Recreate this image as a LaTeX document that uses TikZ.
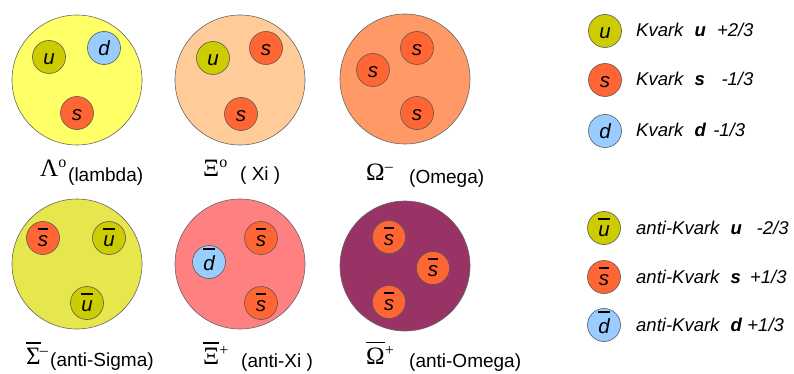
\documentclass[tikz,border=0pt]{standalone}
\usepackage{fontspec}
\setmainfont{Liberation Sans}
\newfontfamily\grk{Liberation Serif}
\usetikzlibrary{calc}
\definecolor{cu}{HTML}{CCCC00}
\definecolor{cs}{HTML}{FF6633}
\definecolor{cd}{HTML}{99CCFF}
\definecolor{hA}{HTML}{FFFF66}
\definecolor{hB}{HTML}{FFCC99}
\definecolor{hC}{HTML}{FF9966}
\definecolor{hD}{HTML}{E6E64D}
\definecolor{hE}{HTML}{FF8080}
\definecolor{hF}{HTML}{993366}
\newcommand\obar[1]{\vbox{\hrule height 1.3pt\kern 5.5pt\hbox{#1}}}
\newcommand\gbar[1]{\vbox{\hrule height 1.5pt\kern 4pt\hbox{#1}}}
\newcommand\supr[1]{\raisebox{8.5pt}{\fontsize{16}{16}\selectfont #1}}
\newcommand\qk[5]{\node[quark,fill=#4] (#1) at (#2,#3) {}; \node[ql] (#1t) at ($(#1)+(0,8)$) {#5};}
\begin{document}
\begin{tikzpicture}[x=1pt,y=-1pt,
 hadron/.style={circle,draw=black!60,line width=0.6pt,minimum size=130pt,inner sep=0pt},
 quark/.style={circle,draw=black!65,line width=0.6pt,minimum size=33pt,inner sep=0pt},
 ql/.style={anchor=base,inner sep=0pt,font=\fontsize{20.5}{20.5}\selectfont\itshape},
 gl/.style={anchor=base west,inner sep=0pt,font=\grk\fontsize{25}{25}\selectfont},
 pl/.style={anchor=base west,inner sep=0pt,font=\fontsize{19}{19}\selectfont},
 lg/.style={anchor=base west,inner sep=0pt,font=\fontsize{18.5}{18.5}\selectfont\itshape}]
\useasboundingbox (0,0) rectangle (794,374);
% hadrons
\node[hadron,fill=hA] (H1) at (77,80) {};
\node[hadron,fill=hB] (H2) at (240,80) {};
\node[hadron,fill=hC] (H3) at (405,79) {};
\node[hadron,fill=hD] (H4) at (77,264) {};
\node[hadron,fill=hE] (H5) at (240,264) {};
\node[hadron,fill=hF] (H6) at (405,266) {};
% quarks
\qk{a1}{49}{57}{cu}{u}
\qk{a2}{104}{48}{cd}{d}
\qk{a3}{77}{113}{cs}{s}
\qk{b1}{213}{58}{cu}{u}
\qk{b2}{266}{48}{cs}{s}
\qk{b3}{241}{114}{cs}{s}
\qk{c1}{373}{70}{cs}{s}
\qk{c2}{417}{48}{cs}{s}
\qk{c3}{417}{113}{cs}{s}
\qk{d1}{43}{238}{cs}{\obar{s}}
\qk{d2}{109}{238}{cu}{\obar{u}}
\qk{d3}{87}{303}{cu}{\obar{u}}
\qk{e1}{209}{262}{cd}{\obar{d}}
\qk{e2}{261}{238}{cs}{\obar{s}}
\qk{e3}{261}{303}{cs}{\obar{s}}
\qk{f1}{389}{237}{cs}{\obar{s}}
\qk{f2}{433}{268}{cs}{\obar{s}}
\qk{f3}{389}{302}{cs}{\obar{s}}
% labels
\node[gl] (g1) at (40,176) {Λ\supr{o}};
\node[pl] (p1) at (68,181) {(lambda)};
\node[gl] (g2) at (203,176) {Ξ\supr{o}};
\node[pl] (p2) at (240,180) {( Xi )};
\node[gl] (g3) at (366,180) {Ω\supr{–}};
\node[pl] (p3) at (409,183) {(Omega)};
\node[gl] (g4) at (26,364) {\gbar{Σ}\kern-1pt\supr{–}};
\node[pl] (p4) at (50,366) {(anti-Sigma)};
\node[gl] (g5) at (203,364) {\gbar{Ξ}\supr{+}};
\node[pl] (p5) at (241,367) {(anti-Xi )};
\node[gl] (g6) at (366,364) {\gbar{Ω}\supr{+}};
\node[pl] (p6) at (409,367) {(anti-Omega)};
% legend
\qk{L1}{605}{31}{cu}{u}
\qk{L2}{605}{80}{cs}{s}
\qk{L3}{605}{131}{cd}{d}
\qk{L4}{604}{228}{cu}{\obar{u}}
\qk{L5}{604}{277}{cs}{\obar{s}}
\qk{L6}{604}{325}{cd}{\obar{d}}
\node[lg] (t1) at (636,37) {Kvark\hspace{0.6em}\textbf{u}\hspace{0.6em}+2/3};
\node[lg] (t2) at (636,86) {Kvark\hspace{0.6em}\textbf{s}\hspace{0.9em}-1/3};
\node[lg] (t3) at (636,137) {Kvark\hspace{0.6em}\textbf{d}\hspace{0.4em}-1/3};
\node[lg] (t4) at (636,234) {anti-Kvark\hspace{0.6em}\textbf{u}\hspace{0.8em}-2/3};
\node[lg] (t5) at (636,283) {anti-Kvark\hspace{0.6em}\textbf{s}\hspace{0.5em}+1/3};
\node[lg] (t6) at (636,331) {anti-Kvark\hspace{0.6em}\textbf{d}\hspace{0.3em}+1/3};
\end{tikzpicture}
\end{document}
